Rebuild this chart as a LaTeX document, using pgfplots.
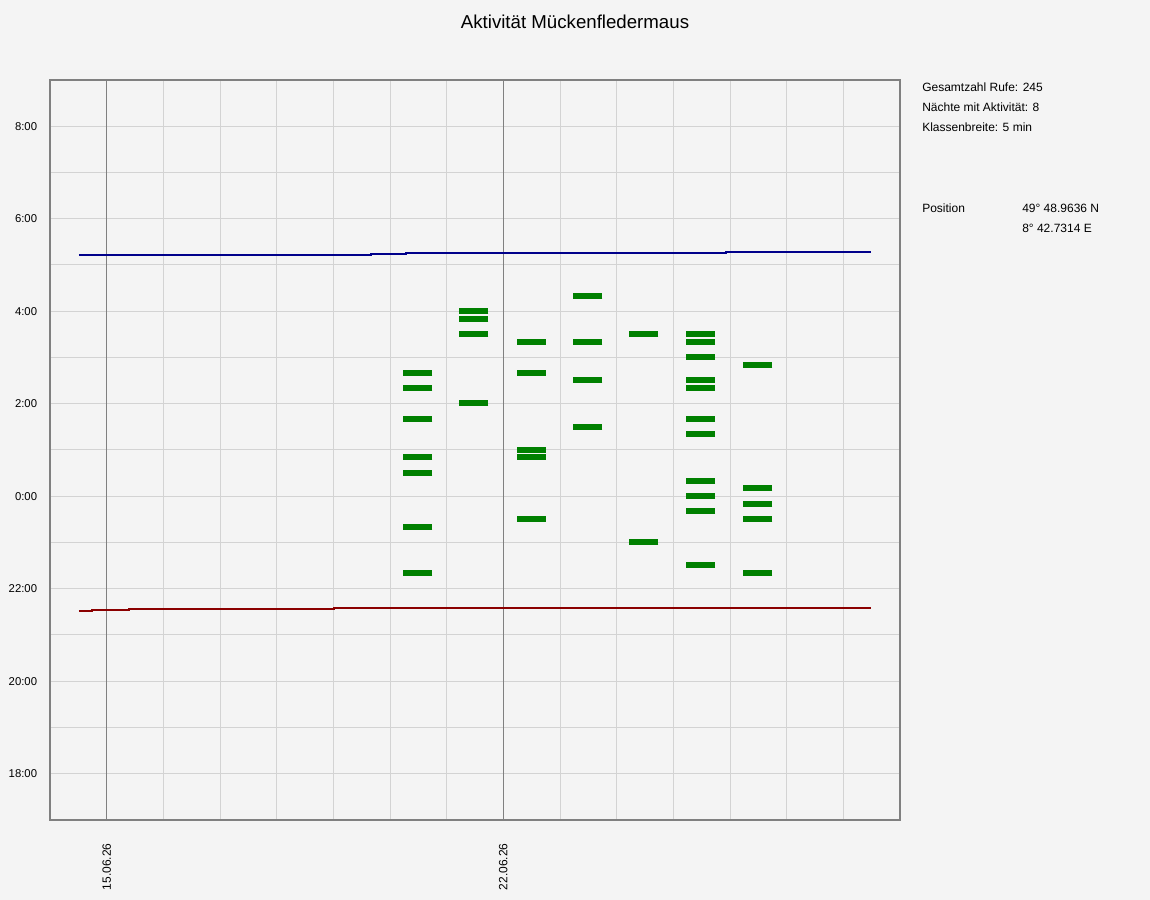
\documentclass[border=0pt]{standalone}
\usepackage{fontspec}
\setmainfont{Liberation Sans}
\usepackage{pgfplots}
\pgfplotsset{compat=1.18}
\definecolor{bg}{HTML}{F4F4F4}
\definecolor{gridc}{HTML}{D3D3D3}
\definecolor{framec}{HTML}{808080}
\definecolor{barc}{HTML}{008000}
\definecolor{setc}{HTML}{8B0000}
\definecolor{risec}{HTML}{00008B}
\begin{document}
\begin{tikzpicture}[x=0.75pt,y=0.75pt]
\fill[bg] (0,0) rectangle (1150,900);
\node[font=\fontsize{14}{16}\selectfont] at (575,878) {Aktivität Mückenfledermaus};
\begin{scope}[font=\fontsize{9}{11}\selectfont, inner sep=0pt]
\node[anchor=west] at (922,813) {Gesamtzahl Rufe: 245};
\node[anchor=west] at (922,793) {Nächte mit Aktivität: 8};
\node[anchor=west] at (922,773) {Klassenbreite: 5 min};
\node[anchor=west] at (922,692) {Position};
\node[anchor=west] at (1022,692) {49° 48.9636 N};
\node[anchor=west] at (1022,672) {8° 42.7314 E};
\end{scope}
\begin{axis}[
  at={(37.5pt,60pt)}, anchor=south west,
  scale only axis, width=637.5pt, height=555pt,
  xmin=-1, xmax=14, ymin=-7, ymax=9,
  axis background/.style={fill=bg},
  axis line style={draw=framec, line width=1.2pt},
  major tick length=0pt, minor tick length=0pt,
  tick style={draw=none},
  xtick={1,2,3,4,5,6,8,9,10,11,12,13},
  xticklabels={},
  extra x ticks={0,7},
  extra x tick labels={15.06.26,22.06.26},
  extra x tick style={major grid style={draw=framec, line width=0.75pt}},
  xticklabel style={rotate=90, anchor=east, inner sep=0pt, font=\fontsize{9}{11}\selectfont},
  xticklabel shift=17.5pt,
  ytick={-6,-4,-2,0,2,4,6,8},
  yticklabels={18:00,20:00,22:00,0:00,2:00,4:00,6:00,8:00},
  minor ytick={-5,-3,-1,1,3,5,7},
  yticklabel style={inner sep=0pt, anchor=east, font=\fontsize{8.5}{10}\selectfont},
  yticklabel shift=9.5pt,
  grid=both,
  major grid style={draw=gridc, line width=0.75pt},
  minor grid style={draw=gridc, line width=0.75pt},
  clip=false,
]
\addplot[const plot, draw=setc, line width=1.5pt] coordinates {
(-0.49,-2.474) (-0.26,-2.452) (0.39,-2.430) (4.02,-2.409) (13.49,-2.409)};
\addplot[const plot, draw=risec, line width=1.5pt] coordinates {
(-0.49,5.224) (4.66,5.245) (5.29,5.265) (10.93,5.282) (13.49,5.282)};
\addplot[only marks, mark=-, mark size=10.875pt, mark options={draw=barc, line width=4.5pt}] coordinates {
(5.49,2.666) (5.49,2.34) (5.49,1.67) (5.49,0.85) (5.49,0.50) (5.49,-0.66) (5.49,-1.66)
(6.48,4.0) (6.48,3.83) (6.48,3.51) (6.48,2.02)
(7.49,3.34) (7.49,2.67) (7.49,1.0) (7.49,0.85) (7.49,-0.49)
(8.49,4.33) (8.49,3.34) (8.49,2.51) (8.49,1.50)
(9.48,3.51) (9.48,-0.99)
(10.48,3.51) (10.48,3.34) (10.48,3.01) (10.48,2.51) (10.48,2.34) (10.48,1.67) (10.48,1.35) (10.48,0.33) (10.48,0.0) (10.48,-0.32) (10.48,-1.49)
(11.49,2.84) (11.49,0.18) (11.49,-0.17) (11.49,-0.49) (11.49,-1.66)
};
\end{axis}
\end{tikzpicture}
\end{document}
